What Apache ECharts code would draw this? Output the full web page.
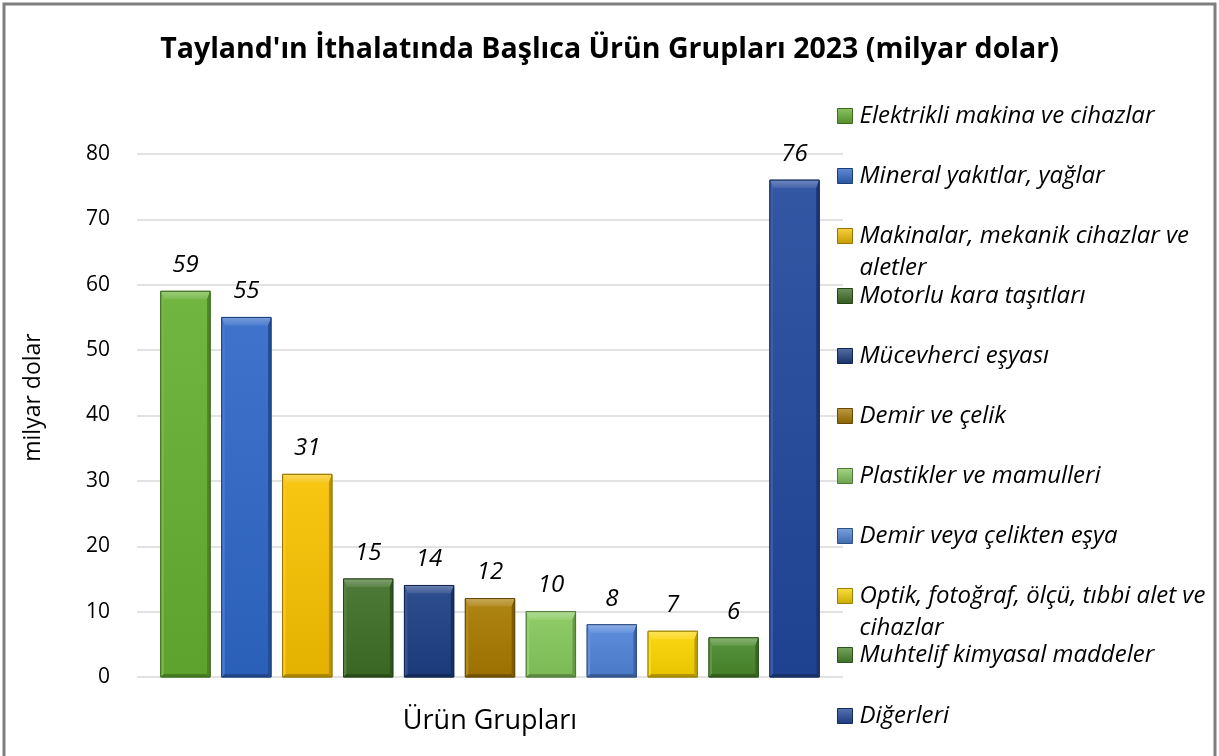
<!DOCTYPE html>
<html>
<head>
<meta charset="utf-8">
<script src="https://cdn.jsdelivr.net/npm/echarts@6/dist/echarts.min.js"></script>
<style>
html,body{margin:0;padding:0;background:#fff;}
#chart{width:1219px;height:756px;}
</style>
</head>
<body>
<div id="chart"></div>
<script>
// ---- data ----
const categories = [
  "Elektrikli makina ve cihazlar",
  "Mineral yakıtlar, yağlar",
  "Makinalar, mekanik cihazlar ve aletler",
  "Motorlu kara taşıtları",
  "Mücevherci eşyası",
  "Demir ve çelik",
  "Plastikler ve mamulleri",
  "Demir veya çelikten eşya",
  "Optik, fotoğraf, ölçü, tıbbi alet ve cihazlar",
  "Muhtelif kimyasal maddeler",
  "Diğerleri"
];
const values = [59, 55, 31, 15, 14, 12, 10, 8, 7, 6, 76];
const legendLabels = [
  "Elektrikli makina ve cihazlar",
  "Mineral yakıtlar, yağlar",
  "Makinalar, mekanik cihazlar ve\naletler",
  "Motorlu kara taşıtları",
  "Mücevherci eşyası",
  "Demir ve çelik",
  "Plastikler ve mamulleri",
  "Demir veya çelikten eşya",
  "Optik, fotoğraf, ölçü, tıbbi alet ve\ncihazlar",
  "Muhtelif kimyasal maddeler",
  "Diğerleri"
];
const yTicks = [0, 10, 20, 30, 40, 50, 60, 70, 80];
const titleText = "Tayland'ın İthalatında Başlıca Ürün Grupları 2023 (milyar dolar)";
const xName = "Ürün Grupları";
const yName = "milyar dolar";

// ---- styles ----
const colors = ["#66b032", "#2f68c8", "#f7c200", "#3f6f26", "#1d3f85", "#a87a00",
                "#86c95c", "#4f83d8", "#fbd400", "#4a8a2c", "#22489c"];
const FONT = "'Open Sans', Lato, sans-serif";

function shade(hex, f) {
  let r = parseInt(hex.slice(1,3),16), g = parseInt(hex.slice(3,5),16), b = parseInt(hex.slice(5,7),16);
  if (f >= 0) { r += (255-r)*f; g += (255-g)*f; b += (255-b)*f; }
  else { r *= (1+f); g *= (1+f); b *= (1+f); }
  return 'rgb(' + Math.round(r) + ',' + Math.round(g) + ',' + Math.round(b) + ')';
}

function renderBar(params, api) {
  const i = api.value(0), v = api.value(1);
  const topP = api.coord([i, v]);
  const baseP = api.coord([i, 0]);
  const w = api.size([1, 0])[0] * 0.81;
  const x0 = topP[0] - w/2, x1 = topP[0] + w/2, y0 = topP[1], y1 = baseP[1];
  const c = colors[params.seriesIndex];
  const bt = Math.min(8, (y1 - y0) / 3), s = 3;
  return {
    type: 'group',
    children: [
      { type: 'rect', shape: {x: x0, y: y0, width: w, height: y1 - y0},
        style: { fill: new echarts.graphic.LinearGradient(0,0,0,1,[
          {offset:0, color: shade(c, 0.08)}, {offset:1, color: shade(c, -0.08)}]),
          stroke: shade(c, -0.35), lineWidth: 1 } },
      { type: 'polygon', shape: {points: [[x0,y0],[x1,y0],[x1-s,y0+bt],[x0+s,y0+bt]]},
        style: { fill: new echarts.graphic.LinearGradient(0,0,0,1,[
          {offset:0, color: shade(c, 0.35)}, {offset:1, color: shade(c, 0.15)}]) } },
      { type: 'polygon', shape: {points: [[x0,y0],[x0+s,y0+bt],[x0+s,y1-s],[x0,y1]]},
        style: { fill: shade(c, 0.12) } },
      { type: 'polygon', shape: {points: [[x1,y0],[x1,y1],[x1-s,y1-s],[x1-s,y0+bt]]},
        style: { fill: shade(c, -0.25) } },
      { type: 'polygon', shape: {points: [[x0,y1],[x0+s,y1-s],[x1-s,y1-s],[x1,y1]]},
        style: { fill: shade(c, -0.3) } },
      { type: 'rect', shape: {x: x0, y: y0, width: w, height: y1 - y0},
        style: { fill: 'none', stroke: shade(c, -0.4), lineWidth: 1 } },
      { type: 'text', x: topP[0], y: y0 - 14,
        style: { text: String(v), fill: '#000', fontSize: 24, fontStyle: 'italic',
                 fontFamily: FONT, align: 'center', verticalAlign: 'bottom' } }
    ]
  };
}

const series = categories.map((name, i) => ({
  name: name,
  type: 'custom',
  xAxisIndex: 1, yAxisIndex: 1,
  itemStyle: { color: colors[i] },
  renderItem: renderBar,
  encode: { x: 0, y: 1 },
  data: [[i, values[i]]],
  z: 3
}));

const legendCenters = [116, 176, 236, 296, 356, 416, 476, 536, 596, 655, 716];
const legends = categories.map((name, i) => {
  const wrapped = legendLabels[i].indexOf('\n') >= 0;
  const text = wrapped ? '\n' + legendLabels[i] : legendLabels[i];
  const lines = text.split('\n').length;
  return {
    show: true,
    left: 837,
    top: legendCenters[i] - lines * 16,
    padding: 0,
    orient: 'vertical',
    itemWidth: 15, itemHeight: 15,
    icon: 'rect',
    selectedMode: false,
    data: [{ name: name, itemStyle: { color: new echarts.graphic.LinearGradient(0,0,0,1,[
      {offset:0, color: shade(colors[i], 0.25)}, {offset:1, color: shade(colors[i], -0.2)}]),
      borderColor: shade(colors[i], -0.4), borderWidth: 1 } }],
    formatter: () => text,
    textStyle: { fontFamily: FONT, fontStyle: 'italic', fontSize: 24, color: '#000',
                 lineHeight: 32, padding: [0, 0, 0, 2] }
  };
});

const chart = echarts.init(document.getElementById('chart'), null, {renderer: 'canvas'});
chart.setOption({
  backgroundColor: '#fff',
  animation: false,
  title: {
    text: titleText, left: 'center', top: 30,
    textStyle: { fontFamily: FONT, fontWeight: 'bold', fontSize: 28.5, color: '#000' }
  },
  legend: legends,
  grid: [
    { left: 137, width: 706, top: 154, height: 523 },
    { left: 155, width: 670, top: 154, height: 523 }
  ],
  xAxis: [
    { gridIndex: 0, type: 'value', min: 0, max: 1, show: false },
    { gridIndex: 1, type: 'category', data: categories,
      axisLine: { show: false }, axisTick: { show: false }, axisLabel: { show: false },
      name: xName, nameLocation: 'middle', nameGap: 31,
      nameTextStyle: { fontFamily: FONT, fontSize: 27, color: '#000' } }
  ],
  yAxis: [
    { gridIndex: 0, type: 'value', min: yTicks[0], max: yTicks[yTicks.length-1], interval: 10,
      axisLine: { show: false }, axisTick: { show: false },
      axisLabel: { fontFamily: FONT, fontSize: 21, color: '#000', margin: 27 },
      splitLine: { lineStyle: { color: '#d9d9d9', width: 1.5 } },
      name: yName, nameLocation: 'middle', nameGap: 92, nameRotate: 90,
      nameTextStyle: { fontFamily: FONT, fontSize: 23, color: '#000', padding: [0, 0, 0, 36] } },
    { gridIndex: 1, type: 'value', min: yTicks[0], max: yTicks[yTicks.length-1], interval: 10, show: false }
  ],
  graphic: [
    { type: 'rect', shape: { x: 4, y: 4, width: 1211, height: 760 },
      style: { fill: 'none', stroke: '#7f7f7f', lineWidth: 3 }, z: 100 }
  ],
  series: series
});
</script>
</body>
</html>
